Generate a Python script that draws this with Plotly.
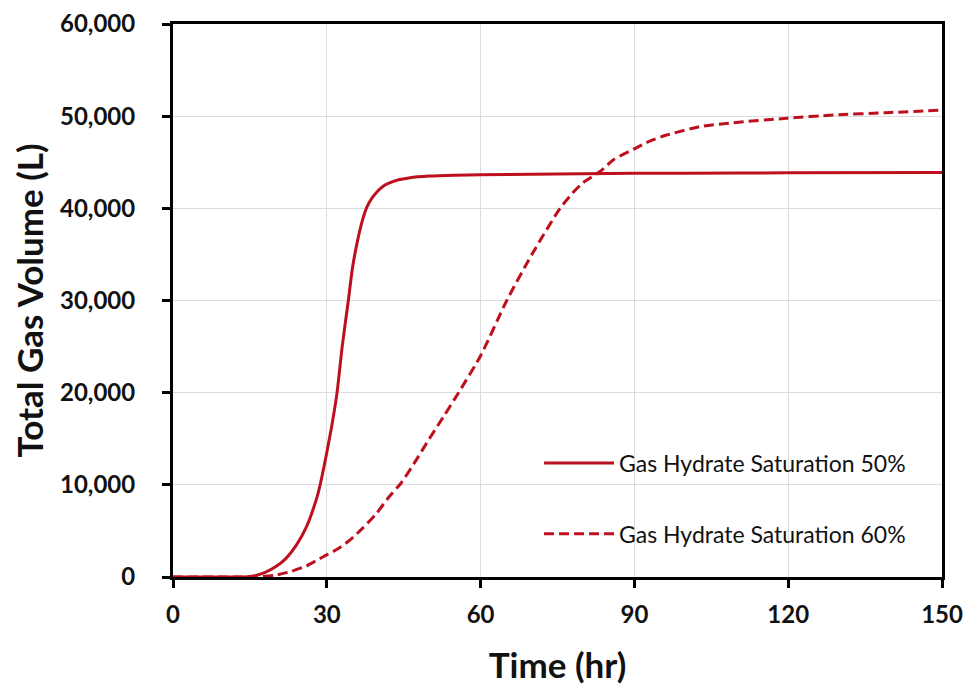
import plotly.graph_objects as go

# Data
time_50 = [0, 10, 14, 16, 18, 20, 22, 24, 26, 28, 28.7, 30, 31, 32, 33, 34.2, 35, 36, 37, 37.8, 38.8, 40, 41, 42, 44, 46, 50, 55, 60, 70, 80, 90, 100, 120, 150]
vol_50 = [0, 0, 0, 150, 500, 1100, 2000, 3400, 5400, 8500, 10000, 13500, 16500, 20000, 25000, 30000, 33500, 36500, 38800, 40100, 41100, 41900, 42400, 42700, 43100, 43300, 43500, 43600, 43650, 43700, 43750, 43800, 43820, 43850, 43900]

time_60 = [0, 10, 16, 20, 23, 26, 29.3, 32, 34.5, 37, 39.7, 42, 44.5, 47, 50, 53, 55.7, 60, 65.1, 70, 75.5, 78, 80, 83.3, 86, 89.8, 93, 96.3, 102.8, 109.3, 119.7, 128.8, 139.2, 150]
vol_60 = [0, 0, 0, 200, 600, 1200, 2200, 3000, 4000, 5300, 6900, 8600, 10200, 12300, 15000, 17600, 20000, 24000, 30000, 35000, 40000, 41700, 42800, 44000, 45300, 46400, 47300, 47950, 48860, 49290, 49770, 50120, 50380, 50650]

series_names = ["Gas Hydrate Saturation 50%", "Gas Hydrate Saturation 60%"]
x_ticks = [0, 30, 60, 90, 120, 150]
y_ticks = [0, 10000, 20000, 30000, 40000, 50000, 60000]

RED = "#BE0F1E"
FONT = "Lato"

fig = go.Figure()
fig.add_trace(go.Scatter(x=time_50, y=vol_50, mode="lines", name=series_names[0],
                         line=dict(color=RED, width=3, shape="spline", smoothing=0.6),
                         legendgroup="a"))
fig.add_trace(go.Scatter(x=time_60, y=vol_60, mode="lines", name=series_names[1],
                         line=dict(color=RED, width=3, dash="10px,5px", shape="spline", smoothing=0.6),
                         legendgroup="b"))

axis_common = dict(
    showline=True, linecolor="black", linewidth=3, mirror=True,
    ticks="outside", ticklen=8, tickwidth=3, tickcolor="black",
    showgrid=True, gridcolor="#DCDCDC", gridwidth=1, zeroline=False,
    automargin=False,
    tickfont=dict(family=FONT, size=24, color="#111111", weight="bold"),
)

fig.update_xaxes(range=[0, 150], tickvals=x_ticks, ticklabelstandoff=6,
                 title=dict(text="Time (hr)", font=dict(family=FONT, size=35, color="#111111", weight="bold"), standoff=27),
                 **axis_common)
fig.update_yaxes(range=[0, 60000], tickvals=y_ticks, tickformat=",", ticklabelstandoff=22,
                 title=dict(text="Total Gas Volume (L)", font=dict(family=FONT, size=35, color="#111111", weight="bold"), standoff=6),
                 **axis_common)

fig.update_layout(
    width=966, height=687,
    margin=dict(l=173, r=24, t=24, b=110),
    paper_bgcolor="white", plot_bgcolor="white",
    showlegend=True,
    legend=dict(x=0.476, y=0.245, xanchor="left", yanchor="top",
                bgcolor="rgba(0,0,0,0)", traceorder="grouped", tracegroupgap=38,
                itemwidth=70,
                font=dict(family=FONT, size=23, color="#111111")),
)

fig.write_html("out.html")
